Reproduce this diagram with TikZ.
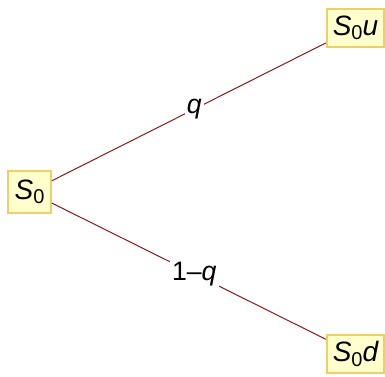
\documentclass[tikz,border=0pt]{standalone}
\usepackage{fontspec}
\setmainfont{Liberation Sans}
\definecolor{boxfill}{RGB}{255,255,205}
\definecolor{boxline}{RGB}{236,208,100}
\definecolor{branchred}{RGB}{139,26,26}
\newcommand{\lowsub}[1]{\raisebox{-.3ex}{\fontsize{15}{16}\upshape\selectfont #1}}

\begin{document}
\begin{tikzpicture}[x=.75pt,y=-.75pt,
  statebox/.style={draw=boxline,fill=boxfill,line width=1.5pt,inner sep=0pt,font=\fontsize{21}{25}\itshape\selectfont},
  branch/.style={draw=branchred,line width=.75pt},
  prob/.style={fill=white,inner sep=1.5pt,pos=.52,font=\fontsize{20}{24}\selectfont}]
\useasboundingbox (0,0) rectangle (385,377);
\node[statebox,minimum width=32pt,minimum height=32pt] (s0) at (29.5,192) {S\lowsub{0}};
\node[statebox,minimum width=43pt,minimum height=28pt] (s0u) at (355.5,28) {S\lowsub{0}u};
\node[statebox,minimum width=43pt,minimum height=28pt] (s0d) at (355.5,354) {S\lowsub{0}d};
\draw[branch] (s0) -- node[prob] {\textit{q}} (s0u);
\draw[branch] (s0) -- node[prob] {1–\textit{q}} (s0d);
\end{tikzpicture}
\end{document}
